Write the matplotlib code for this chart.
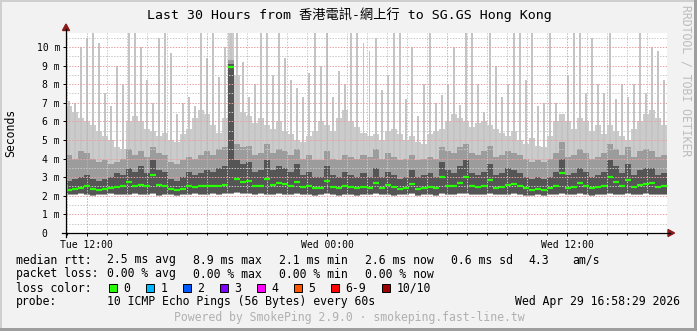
import matplotlib
matplotlib.use('Agg')
import matplotlib.pyplot as plt
import matplotlib.dates as mdates
from matplotlib.patches import Rectangle, Polygon
from matplotlib.lines import Line2D
import numpy as np
import pandas as pd

plt.rcParams['font.family'] = ['DejaVu Sans Mono', 'Noto Sans CJK TC']

# 30 hours, 100 steps of 18 min, ending Wed Apr 29 16:58:29 2026
t_start = pd.Timestamp('2026-04-28 10:58:29')
t_end = pd.Timestamp('2026-04-29 16:58:29')

# smoke layers (ms)
rtt_min = [2.05, 2.05, 2.1, 2.05, 2.0, 2.05, 2.05, 2.1, 2.05, 2.05,
           2.05, 2.1, 2.05, 2.05, 2.1, 2.0, 2.05, 2.05, 2.0, 2.05,
           2.05, 2.1, 2.05, 2.05, 2.1, 2.05, 2.1, 2.1, 2.15, 2.1,
           2.1, 2.05, 2.1, 2.05, 2.05, 2.1, 2.05, 2.05, 2.1, 2.05,
           2.05, 2.0, 2.05, 2.1, 2.05, 2.0, 2.05, 2.05, 2.0, 2.05,
           2.05, 2.1, 2.05, 2.05, 2.0, 2.05, 2.05, 2.1, 2.0, 2.05,
           2.05, 2.0, 2.1, 2.05, 2.05, 2.1, 2.1, 2.05, 2.05, 2.05,
           2.1, 2.05, 2.05, 2.05, 2.1, 2.05, 2.0, 2.0, 2.05, 2.0,
           2.05, 2.05, 2.1, 2.05, 2.05, 2.1, 2.05, 2.0, 2.05, 2.05,
           2.1, 2.05, 2.05, 2.1, 2.05, 2.05, 2.1, 2.05, 2.05, 2.05]
rtt_median = [2.3, 2.35, 2.4, 2.5, 2.35, 2.3, 2.35, 2.4, 2.45, 2.5,
              2.75, 2.55, 2.6, 2.5, 3.1, 2.6, 2.55, 2.35, 2.3, 2.35,
              2.5, 2.45, 2.5, 2.55, 2.5, 2.5, 2.6, 8.9, 2.9, 2.75,
              2.8, 2.5, 2.55, 2.9, 2.6, 2.7, 2.65, 2.55, 2.75, 2.45,
              2.5, 2.4, 2.4, 2.8, 2.45, 2.4, 2.5, 2.45, 2.4, 2.45,
              2.4, 2.7, 2.4, 2.6, 2.45, 2.35, 2.4, 2.65, 2.35, 2.4,
              2.45, 2.4, 3.0, 2.55, 2.5, 2.7, 3.0, 2.5, 2.45, 2.5,
              2.85, 2.4, 2.45, 2.6, 2.65, 2.5, 2.4, 2.3, 2.35, 2.3,
              2.4, 2.5, 3.2, 2.4, 2.45, 2.7, 2.5, 2.4, 2.45, 2.55,
              3.0, 2.75, 2.5, 2.85, 2.45, 2.6, 2.65, 2.7, 2.45, 2.5]
smoke_dark = [2.8, 2.9, 3.0, 3.1, 2.9, 2.8, 2.9, 3.0, 3.2, 3.1,
              3.5, 3.3, 3.6, 3.2, 3.9, 3.4, 3.3, 2.9, 2.8, 3.0,
              3.3, 3.1, 3.2, 3.4, 3.3, 3.5, 3.6, 9.1, 3.9, 3.7,
              3.8, 3.3, 3.4, 3.9, 3.4, 3.6, 3.5, 3.3, 3.7, 3.1,
              3.3, 3.0, 3.0, 3.6, 3.1, 3.0, 3.3, 3.1, 3.0, 3.2,
              3.0, 3.5, 3.0, 3.3, 3.1, 2.9, 3.0, 3.4, 3.0, 3.1,
              3.2, 3.0, 3.8, 3.4, 3.2, 3.6, 3.9, 3.2, 3.1, 3.3,
              3.7, 3.1, 3.2, 3.5, 3.4, 3.2, 3.0, 2.9, 3.0, 2.9,
              3.0, 3.3, 4.0, 3.1, 3.2, 3.5, 3.3, 3.0, 3.1, 3.3,
              3.9, 3.6, 3.2, 3.7, 3.1, 3.4, 3.5, 3.5, 3.1, 3.2]
smoke_mid = [4.2, 4.0, 4.4, 4.3, 4.0, 3.8, 3.9, 3.7, 3.8, 4.0,
             4.5, 4.2, 4.4, 4.1, 4.6, 4.3, 4.2, 3.8, 3.7, 3.9,
             4.1, 4.0, 4.2, 4.4, 4.2, 4.5, 4.6, 9.3, 4.8, 4.6,
             4.7, 4.2, 4.3, 4.8, 4.3, 4.5, 4.4, 4.2, 4.5, 4.0,
             4.2, 3.9, 3.9, 4.4, 4.0, 3.9, 4.2, 4.1, 4.0, 4.2,
             4.1, 4.5, 4.0, 4.3, 4.1, 3.9, 4.0, 4.2, 3.9, 4.0,
             4.1, 4.0, 4.6, 4.4, 4.3, 4.6, 4.8, 4.3, 4.2, 4.4,
             4.7, 4.1, 4.2, 4.4, 4.3, 4.2, 4.0, 3.8, 3.9, 3.8,
             4.0, 4.3, 4.9, 4.1, 4.2, 4.5, 4.3, 4.0, 4.1, 4.3,
             4.8, 4.5, 4.2, 4.6, 4.1, 4.4, 4.5, 4.4, 4.1, 4.2]
smoke_light = [6.8, 6.5, 6.2, 6.0, 5.8, 5.5, 5.2, 5.0, 4.6, 4.5,
               6.0, 6.3, 6.0, 5.6, 5.5, 5.2, 5.4, 5.0, 4.9, 5.3,
               5.6, 6.2, 6.6, 6.4, 5.8, 5.4, 6.2, 10.75, 8.5, 6.5,
               6.3, 5.9, 6.2, 5.8, 5.6, 6.0, 5.5, 5.3, 5.0, 4.9,
               5.2, 5.5, 6.0, 5.8, 5.5, 6.2, 6.6, 6.0, 5.7, 5.4,
               5.2, 5.3, 5.0, 5.5, 5.6, 5.3, 5.0, 5.2, 4.9, 4.8,
               5.3, 5.5, 5.6, 6.0, 6.4, 6.2, 6.0, 5.7, 5.9, 6.0,
               5.8, 5.6, 5.4, 5.2, 5.5, 5.0, 4.8, 5.1, 4.7, 4.6,
               5.2, 6.0, 6.4, 6.0, 5.6, 6.2, 6.0, 5.5, 5.8, 5.3,
               5.8, 5.5, 5.2, 5.0, 5.6, 6.0, 6.4, 6.6, 6.2, 5.8]
rtt_max = [7.1, 7.0, 10.0, 10.5, 10.75, 10.2, 7.5, 6.8, 9.0, 8.0,
           10.75, 10.75, 10.0, 8.2, 7.0, 10.5, 10.75, 9.7, 6.4, 7.0,
           7.3, 6.8, 10.75, 9.4, 10.75, 8.4, 10.0, 10.75, 10.75, 9.2,
           7.3, 8.0, 10.75, 10.75, 8.5, 10.75, 9.4, 8.2, 7.8, 7.3,
           8.6, 10.75, 9.0, 10.75, 7.3, 8.7, 8.0, 10.75, 10.75, 10.2,
           9.8, 10.5, 7.7, 8.5, 10.75, 10.75, 7.2, 10.0, 6.3, 8.0,
           10.75, 7.0, 7.4, 8.0, 10.0, 6.9, 10.75, 10.75, 8.0, 6.5,
           10.75, 9.0, 7.3, 8.0, 10.75, 10.75, 8.2, 10.75, 6.8, 7.0,
           10.75, 7.0, 6.0, 8.5, 10.75, 10.75, 7.5, 10.5, 8.0, 7.5,
           10.75, 7.2, 8.0, 7.3, 8.0, 10.75, 7.5, 10.0, 9.8, 8.2]

y_ticks = list(range(11))
y_labels = ['0  '] + ['%d m' % v for v in range(1, 11)]

stats_rtt = ['2.5 ms avg', '8.9 ms max', '2.1 ms min', '2.6 ms now', '0.6 ms sd', '4.3', 'am/s']
stats_loss = ['0.00 % avg', '0.00 % max', '0.00 % min', '0.00 % now']
loss_labels = ['0', '1', '2', '3', '4', '5', '6-9', '10/10']
loss_colors = ['#26ff00', '#00b8ff', '#0059ff', '#7e00ff', '#ff00ff', '#ff5500', '#ff0000', '#a10000']

W, H = 697, 331
fig = plt.figure(figsize=(W / 100, H / 100), dpi=100, facecolor='#f2f2f2')


def fx(x):
    return x / W


def fy(y):
    return 1 - y / H


ax = fig.add_axes([fx(66), fy(233), fx(667) - fx(66), fy(33) - fy(233)])
ax.set_facecolor('white')
for s in ax.spines.values():
    s.set_visible(False)

edges = mdates.date2num(pd.date_range(t_start, periods=len(rtt_median) + 1, freq='18min').to_pydatetime())
step = edges[1] - edges[0]
centers = edges[:-1] + step / 2


def stepv(a):
    return np.append(a, a[-1])


lo = np.array(rtt_min)
ax.fill_between(edges, stepv(lo), stepv(smoke_light), step='post', color='#cbcbcb', lw=0, zorder=1)
ax.bar(centers, np.array(rtt_max) - lo, bottom=lo, width=step * 0.33, color='#c4c4c4', lw=0, zorder=1)
ax.fill_between(edges, stepv(lo), stepv(smoke_mid), step='post', color='#9c9c9c', lw=0, zorder=1.2)
ax.fill_between(edges, stepv(lo + 0.05), stepv(smoke_dark), step='post', color='#555555', lw=0, zorder=1.4)

# grid: grey every 0.5 m / hour, red every 1 m / 6 hours
dots = (0, (1.4, 1.4))
for v in np.arange(0.5, 10.75, 0.5):
    c = '#e8a0a0' if v == int(v) else '#c8c8c8'
    ax.axhline(v, color=c, lw=0.72, ls=dots, zorder=3)
for t in pd.date_range('2026-04-28 11:00', '2026-04-29 16:00', freq='1h'):
    c = '#e8a0a0' if t.hour % 6 == 0 else '#c8c8c8'
    ax.axvline(mdates.date2num(t.to_pydatetime()), color=c, lw=0.72, ls=dots, zorder=3)

# median drawn as short bars per step (no vertical joins), like smokeping
ax.hlines(rtt_median, edges[:-1], edges[1:], color='#26ff00', lw=1.6, zorder=4)

ax.set_xlim(mdates.date2num(t_start.to_pydatetime()), mdates.date2num(t_end.to_pydatetime()))
ax.set_ylim(0, 10.75)
ax.set_yticks(y_ticks)
ax.set_yticklabels(y_labels)
ax.xaxis.set_major_locator(mdates.HourLocator(byhour=[0, 12]))
ax.xaxis.set_major_formatter(mdates.DateFormatter('%a %H:%M'))
ax.xaxis.set_minor_locator(mdates.HourLocator())
ax.tick_params(axis='y', length=2, width=0.7, pad=2.3, labelsize=7)
ax.tick_params(axis='x', which='major', length=2, width=0.7, pad=3, labelsize=7)
ax.tick_params(axis='x', which='minor', length=1.5, width=0.7)

# axes with arrows
fig.add_artist(Line2D([fx(66), fx(66)], [fy(237), fy(29)], color='black', lw=0.9, transform=fig.transFigure))
fig.add_artist(Line2D([fx(62), fx(670)], [fy(233), fy(233)], color='black', lw=0.9, transform=fig.transFigure))
fig.add_artist(Polygon([(fx(62.5), fy(30.5)), (fx(69.5), fy(30.5)), (fx(66), fy(24))], closed=True,
                       color='#8b1a1a', transform=fig.transFigure))
fig.add_artist(Polygon([(fx(668), fy(229.5)), (fx(668), fy(236.5)), (fx(674.5), fy(233))], closed=True,
                       color='#8b1a1a', transform=fig.transFigure))

fig.text(fx(349), fy(19), 'Last 30 Hours from 香港電訊-網上行 to SG.GS Hong Kong',
         ha='center', va='baseline', fontsize=9.5)
fig.text(fx(11), fy(133), 'Seconds', rotation=90, ha='center', va='center', fontsize=8.3)
fig.text(fx(686), fy(5), 'RRDTOOL / TOBI OETIKER', rotation=270, ha='center', va='top',
         fontsize=8.3, color='#bdbdbd')

fs = 8.3
col_x = [107, 193, 279, 365, 451, 528, 572]
fig.text(fx(16), fy(263.5), 'median rtt:', va='baseline', fontsize=fs)
for x, s in zip(col_x, stats_rtt):
    fig.text(fx(x), fy(263.5), s, va='baseline', fontsize=fs)
fig.text(fx(16), fy(277.5), 'packet loss:', va='baseline', fontsize=fs)
for x, s in zip(col_x, stats_loss):
    fig.text(fx(x), fy(277.5), s, va='baseline', fontsize=fs)
fig.text(fx(16), fy(291.5), 'loss color:', va='baseline', fontsize=fs)
box_x = [109, 146, 183, 220, 257, 294, 331, 382]
for bx, lab, c in zip(box_x, loss_labels, loss_colors):
    fig.add_artist(Rectangle((fx(bx), fy(292)), 8 / W, 8 / H, facecolor=c, edgecolor='black',
                             lw=0.7, transform=fig.transFigure))
    fig.text(fx(bx + 14.5), fy(291.5), lab, va='baseline', fontsize=fs)
fig.text(fx(16), fy(305.5), 'probe:', va='baseline', fontsize=fs)
fig.text(fx(107), fy(305.5), '10 ICMP Echo Pings (56 Bytes) every 60s', va='baseline', fontsize=fs)
fig.text(fx(680), fy(305.5), 'Wed Apr 29 16:58:29 2026', ha='right', va='baseline', fontsize=fs)
fig.text(fx(349), fy(321.5), 'Powered by SmokePing 2.9.0 · smokeping.fast-line.tw',
         ha='center', va='baseline', fontsize=fs, color='#b0b0b0')

# 3d frame
fig.add_artist(Rectangle((0, fy(2)), 1, 2 / H, color='#cfcfcf', lw=0, transform=fig.transFigure))
fig.add_artist(Rectangle((0, 0), 2 / W, 1, color='#cfcfcf', lw=0, transform=fig.transFigure))
fig.add_artist(Rectangle((fx(694), 0), 3 / W, 1, color='#9e9e9e', lw=0, transform=fig.transFigure))
fig.add_artist(Rectangle((0, 0), 1, 3 / H, color='#9e9e9e', lw=0, transform=fig.transFigure))

fig.savefig('out.png', dpi=100, facecolor=fig.get_facecolor())
